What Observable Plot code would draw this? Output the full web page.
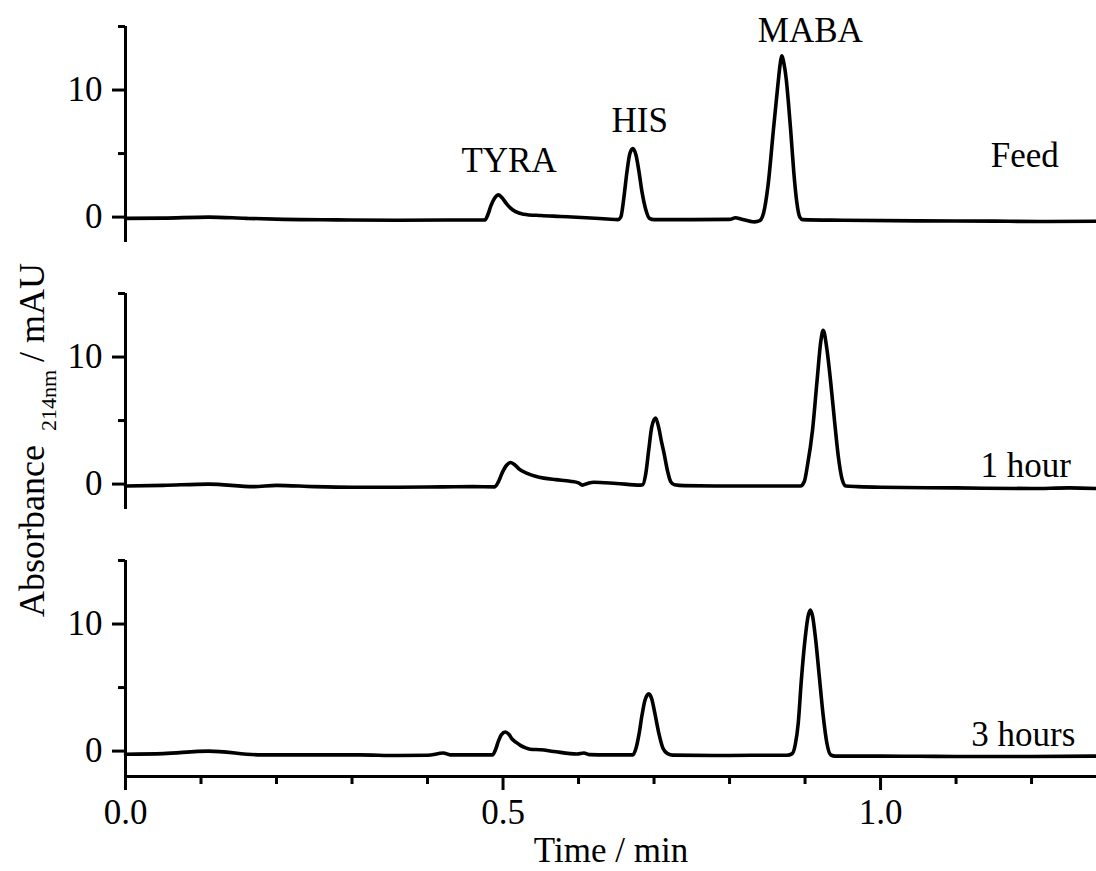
<!DOCTYPE html>
<html><head><meta charset="utf-8">
<script src="https://cdn.jsdelivr.net/npm/d3@7"></script>
<script src="https://cdn.jsdelivr.net/npm/@observablehq/plot@0.6"></script>
<style>body{margin:0;background:#fff}#chart{width:1096px;height:871px}</style>
</head><body><div id="chart"></div>
<script>
// ---- data (time in min, absorbance in mAU) ----
const panels = ["Feed", "1 hour", "3 hours"];

const feed = [
  [0,-0.1],[0.05,-0.08],[0.11,0.0],[0.16,-0.1],[0.21,-0.18],[0.28,-0.22],[0.36,-0.25],[0.44,-0.23],
  [0.476,-0.22],[0.480,0.2],[0.484,0.9],[0.489,1.5],[0.494,1.75],[0.499,1.5],[0.504,1.1],[0.510,0.7],
  [0.516,0.45],[0.527,0.23],[0.55,0.12],[0.576,0.05],[0.61,-0.05],[0.638,-0.15],[0.652,-0.2],
  [0.656,0.0],[0.660,1.5],[0.664,3.5],[0.668,5.0],[0.672,5.4],[0.676,4.9],[0.680,3.6],[0.684,2.0],
  [0.689,0.6],[0.694,-0.1],[0.700,-0.2],[0.75,-0.2],[0.80,-0.18],[0.808,-0.05],[0.815,-0.15],
  [0.833,-0.38],[0.840,-0.28],[0.845,0.3],[0.851,2.5],[0.858,6.8],[0.864,10.4],[0.867,12.0],[0.869,12.7],
  [0.872,12.1],[0.875,10.9],[0.878,9.0],[0.881,6.8],[0.885,3.6],[0.889,1.2],[0.893,0.0],[0.897,-0.2],
  [0.95,-0.25],[1.05,-0.3],[1.15,-0.32],[1.22,-0.35],[1.286,-0.33]
];
const hour1 = [
  [0,-0.15],[0.05,-0.1],[0.11,0.0],[0.17,-0.2],[0.20,-0.1],[0.25,-0.2],[0.30,-0.25],[0.36,-0.25],
  [0.42,-0.22],[0.46,-0.2],[0.489,-0.22],[0.494,0.2],[0.499,0.9],[0.505,1.5],[0.510,1.7],[0.516,1.5],
  [0.521,1.2],[0.532,0.85],[0.543,0.62],[0.554,0.47],[0.57,0.35],[0.589,0.23],[0.600,0.1],[0.605,-0.08],
  [0.612,0.05],[0.62,0.15],[0.65,0.05],[0.682,-0.08],[0.685,-0.05],[0.689,0.8],[0.693,2.7],[0.697,4.5],
  [0.702,5.2],[0.706,4.5],[0.710,3.3],[0.713,2.5],[0.718,1.0],[0.722,0.2],[0.727,-0.05],[0.74,-0.12],
  [0.80,-0.15],[0.85,-0.15],[0.894,-0.15],[0.899,0.2],[0.903,1.4],[0.910,4.3],[0.916,8.2],[0.921,11.3],
  [0.924,12.1],[0.929,10.6],[0.934,8.0],[0.939,5.0],[0.944,2.2],[0.949,0.4],[0.954,-0.15],[0.97,-0.2],
  [1.0,-0.25],[1.1,-0.3],[1.2,-0.35],[1.25,-0.3],[1.286,-0.35]
];
const hour3 = [
  [0,-0.25],[0.05,-0.2],[0.11,0.0],[0.18,-0.3],[0.25,-0.3],[0.31,-0.3],[0.36,-0.35],[0.40,-0.33],
  [0.421,-0.15],[0.43,-0.3],[0.46,-0.3],[0.486,-0.3],[0.490,0.1],[0.494,0.8],[0.498,1.3],[0.503,1.5],
  [0.508,1.3],[0.512,0.95],[0.517,0.7],[0.523,0.45],[0.530,0.25],[0.536,0.15],[0.55,0.1],[0.567,-0.03],
  [0.598,-0.23],[0.607,-0.15],[0.615,-0.28],[0.638,-0.3],[0.672,-0.3],[0.676,0.2],[0.680,1.3],
  [0.684,2.8],[0.688,4.0],[0.693,4.5],[0.697,4.1],[0.701,3.0],[0.706,1.5],[0.712,0.2],[0.718,-0.2],
  [0.725,-0.32],[0.78,-0.35],[0.83,-0.33],[0.876,-0.33],[0.883,-0.2],[0.887,0.5],[0.891,2.2],
  [0.895,5.5],[0.900,8.8],[0.904,10.6],[0.907,11.1],[0.910,10.6],[0.914,8.8],[0.919,5.8],[0.924,2.8],
  [0.929,0.6],[0.934,-0.3],[0.94,-0.4],[1.0,-0.4],[1.1,-0.42],[1.2,-0.42],[1.286,-0.4]
];

const peakNames = ["TYRA", "HIS", "MABA"];
const peakTime  = [0.508, 0.681, 0.907];
const peakLabelY = [4.4, 7.55, 14.65];

const panelLabelTime = [1.236, 1.252, 1.258];
const panelLabelY = [4.85, 1.45, 1.25];

const yMajor = [0, 10];
const yMinor = [5, 15];
const xMajor = [0, 0.5, 1.0];
const xMinor = [0.1, 0.2, 0.3, 0.4, 0.6, 0.7, 0.8, 0.9, 1.1, 1.2];

// ---- tables built from the arrays ----
const series = [feed, hour1, hour3];
const traces = series.flatMap((s, i) => s.map(([t, a]) => ({panel: panels[i], t, a})));
const peaks = peakNames.map((name, i) => ({panel: panels[0], name, t: peakTime[i], y: peakLabelY[i]}));
const panelLabels = panels.map((p, i) => ({panel: p, t: panelLabelTime[i], y: panelLabelY[i]}));

const serif = "Liberation Serif, DejaVu Serif, serif";

const chart = Plot.plot({
  width: 1096, height: 871,
  marginLeft: 125, marginRight: 0, marginTop: 25, marginBottom: 93,
  style: {fontFamily: serif, fontSize: "35px", color: "#000", background: "#fff", overflow: "visible"},
  x: {domain: [0, 1.286]},
  y: {domain: [-2, 15]},
  fy: {domain: panels, axis: null, paddingInner: 0.19, paddingOuter: 0},
  marks: [
    Plot.ruleX([0], {y1: -2, y2: 15, strokeWidth: 3, stroke: "#000"}),
    Plot.ruleY([{panel: "3 hours", v: -2}], {y: "v", fy: "panel", strokeWidth: 3, stroke: "#000"}),
    Plot.axisY({ticks: yMajor, tickSize: 13, tickPadding: 10, strokeWidth: 3, fontSize: 35, label: null}),
    Plot.axisY({ticks: yMinor, tickSize: 7, tickFormat: () => "", strokeWidth: 3, label: null}),
    Plot.axisX({ticks: xMajor, tickSize: 14, tickPadding: 9, tickFormat: d3.format(".1f"), strokeWidth: 3, fontSize: 35, label: null}),
    Plot.axisX({ticks: xMinor, tickSize: 8, tickFormat: () => "", strokeWidth: 3, label: null}),
    Plot.line(traces, {x: "t", y: "a", fy: "panel", curve: "monotone-x", stroke: "#000", strokeWidth: 3.6, strokeLinejoin: "round"}),
    Plot.text(peaks, {x: "t", y: "y", fy: "panel", text: "name", fontSize: 35, fill: "#000"}),
    Plot.text(panelLabels, {x: "t", y: "y", fy: "panel", text: "panel", textAnchor: "end", fontSize: 35, fill: "#000"})
  ]
});

const svg = d3.select(chart);
svg.append("text")
  .attr("x", 611).attr("y", 862)
  .attr("text-anchor", "middle")
  .style("font-family", serif).attr("font-size", 35).attr("fill", "#000")
  .text("Time / min");
const yl = svg.append("text")
  .attr("transform", "translate(44,440) rotate(-90)")
  .attr("text-anchor", "middle")
  .style("font-family", serif).attr("font-size", 36).attr("fill", "#000");
yl.append("tspan").text("Absorbance");
yl.append("tspan").attr("dx", 14).attr("dy", 12).attr("font-size", 22).text("214nm");
yl.append("tspan").attr("dx", 8).attr("dy", -12).text("/ mAU");

document.getElementById("chart").appendChild(chart);
</script>
</body></html>
